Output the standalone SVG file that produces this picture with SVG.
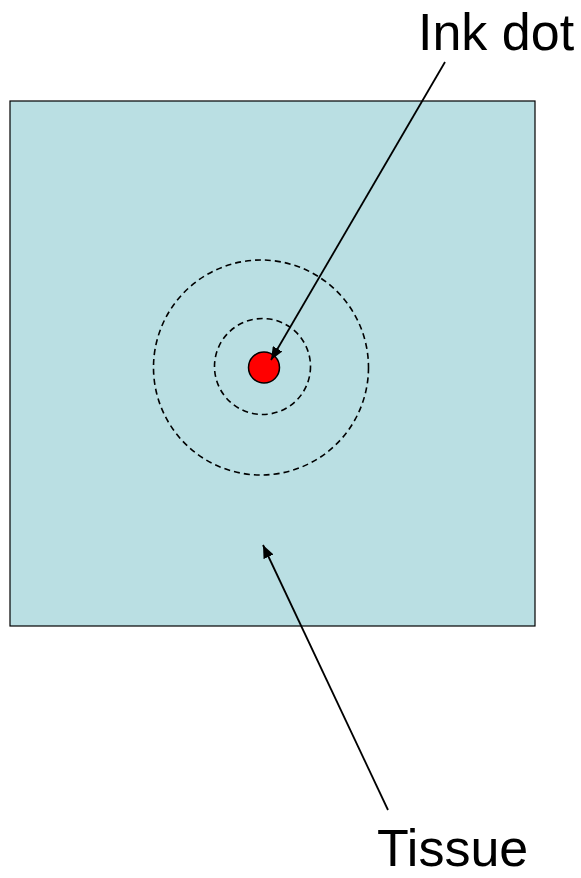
<svg xmlns="http://www.w3.org/2000/svg" width="581" height="878" viewBox="0 0 581 878">
<style>
.lbl{font-family:"Liberation Sans",Arial,sans-serif;font-size:52px;fill:#000}
.ring{fill:none;stroke:#000;stroke-width:1.6;stroke-dasharray:6,4}
.conn{stroke:#000;stroke-width:1.8;fill:none}
</style>
<defs>
<marker id="ah" viewBox="0 0 13 11" refX="13" refY="5.5" markerWidth="13" markerHeight="11" orient="auto" markerUnits="userSpaceOnUse">
<path d="M0,0 L13,5.5 L0,11 z" fill="#000"/>
</marker>
</defs>
<g id="tissue">
<rect x="10" y="101" width="525" height="525" fill="#BADFE3" stroke="#000" stroke-width="1.2"/>
</g>
<g id="rings">
<circle class="ring" cx="261" cy="367.5" r="107.5"/>
<circle class="ring" cx="262.5" cy="366.5" r="48"/>
</g>
<g id="inkdot">
<circle cx="264" cy="367.5" r="15.5" fill="#FF0000" stroke="#000" stroke-width="1.5"/>
</g>
<g id="label-ink">
<text class="lbl" x="418" y="50">Ink dot</text>
</g>
<g id="label-tissue">
<text class="lbl" x="377" y="866">Tissue</text>
</g>
<g id="connectors">
<line class="conn" x1="445" y1="62" x2="271" y2="360" marker-end="url(#ah)"/>
<line class="conn" x1="388" y1="810" x2="263" y2="545" marker-end="url(#ah)"/>
</g>
</svg>
